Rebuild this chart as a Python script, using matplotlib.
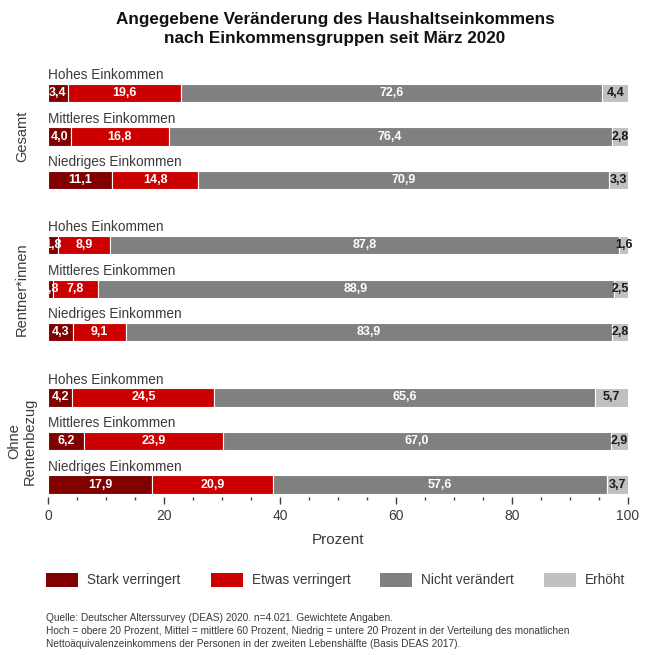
import numpy as np
import matplotlib
matplotlib.use('Agg')
import matplotlib.pyplot as plt
from matplotlib.patches import Rectangle
from matplotlib.transforms import blended_transform_factory

plt.rcParams['font.family'] = ['Liberation Sans', 'DejaVu Sans']

# Data
groups = ['Gesamt', 'Rentner*innen', 'Ohne\nRentenbezug']
incomes = ['Hohes Einkommen', 'Mittleres Einkommen', 'Niedriges Einkommen']
categories = ['Stark verringert', 'Etwas verringert', 'Nicht verändert', 'Erhöht']

stark = [3.4, 4.0, 11.1, 1.8, 0.8, 4.3, 4.2, 6.2, 17.9]
etwas = [19.6, 16.8, 14.8, 8.9, 7.8, 9.1, 24.5, 23.9, 20.9]
nicht = [72.6, 76.4, 70.9, 87.8, 88.9, 83.9, 65.6, 67.0, 57.6]
erhoeht = [4.4, 2.8, 3.3, 1.6, 2.5, 2.8, 5.7, 2.9, 3.7]

colors = ['#800000', '#cc0000', '#808080', '#c0c0c0']
label_colors = ['white', 'white', 'white', '#1a1a1a']
text_col = '#3a3a3a'

W, H = 650, 655
fig = plt.figure(figsize=(W / 100, H / 100), dpi=100)

# axes placed in pixel positions
ax_top, ax_bot = 70, 497
ax = fig.add_axes([48 / W, (H - ax_bot) / H, 580 / W, (ax_bot - ax_top) / H])

# row positions: three groups of three rows, extra half row gap between groups
pos = []
for g in range(len(groups)):
    for i in range(len(incomes)):
        pos.append(g * 3 + i + 0.5 * g)
pos = np.array(pos)

series = [stark, etwas, nicht, erhoeht]
left = np.zeros(len(pos))
bh = 0.42
for vals, c, lc in zip(series, colors, label_colors):
    vals = np.array(vals)
    ax.barh(pos, vals, left=left, height=bh, color=c, edgecolor='white', linewidth=0.8)
    for p, l, v in zip(pos, left, vals):
        ax.text(l + v / 2, p, f'{v:.1f}'.replace('.', ','), ha='center', va='center',
                color=lc, fontsize=9, fontweight='bold')
    left = left + vals

# income labels above each bar
for k, p in enumerate(pos):
    ax.text(0, p - bh / 2 - 0.04, incomes[k % 3], ha='left', va='bottom',
            fontsize=9.8, color=text_col)

ax.set_xlim(0, 100)
ppu = 43.5
y0 = 93
ax.set_ylim((ax_bot - y0) / ppu, (ax_top - y0) / ppu)

for s in ax.spines.values():
    s.set_visible(False)
ax.set_yticks([])
ax.set_xticks(range(0, 101, 20))
ax.set_xticks(range(0, 101, 5), minor=True)
ax.tick_params(axis='x', which='major', length=5, width=1, color='#404040',
               labelsize=10, labelcolor=text_col, pad=4)
ax.tick_params(axis='x', which='minor', length=2.5, width=1, color='#404040')

# group labels
tr = blended_transform_factory(fig.transFigure, ax.transData)
for g, name in enumerate(groups):
    mid = pos[g * 3 + 1]
    fig.text(22 / W, mid, name, transform=tr, rotation=90, ha='center', va='center',
             fontsize=10.5, color=text_col, multialignment='center', linespacing=1.1)

fig.text(338 / W, 1 - 540 / H, 'Prozent', ha='center', va='center', fontsize=11, color=text_col)

# title
fig.text(335 / W, 1 - 29 / H,
         'Angegebene Veränderung des Haushaltseinkommens\nnach Einkommensgruppen seit März 2020',
         ha='center', va='center', fontsize=12.3, fontweight='bold', color='#111111',
         linespacing=1.3)

# legend
leg_x = [46, 211, 380, 544]
for x, c, name in zip(leg_x, colors, categories):
    fig.patches.append(Rectangle((x / W, 1 - 587 / H), 32 / W, 14 / H, transform=fig.transFigure,
                                 facecolor=c, edgecolor='none'))
    fig.text((x + 41) / W, 1 - 580 / H, name, ha='left', va='center', fontsize=9.8, color=text_col)

# footnote
notes = ['Quelle: Deutscher Alterssurvey (DEAS) 2020. n=4.021. Gewichtete Angaben.',
         'Hoch = obere 20 Prozent, Mittel = mittlere 60 Prozent, Niedrig = untere 20 Prozent in der Verteilung des monatlichen',
         'Nettoäquivalenzeinkommens der Personen in der zweiten Lebenshälfte (Basis DEAS 2017).']
for k, line in enumerate(notes):
    fig.text(46 / W, 1 - (618 + 13 * k) / H, line, ha='left', va='center', fontsize=7.3, color=text_col)

fig.savefig('out.png', dpi=100)
